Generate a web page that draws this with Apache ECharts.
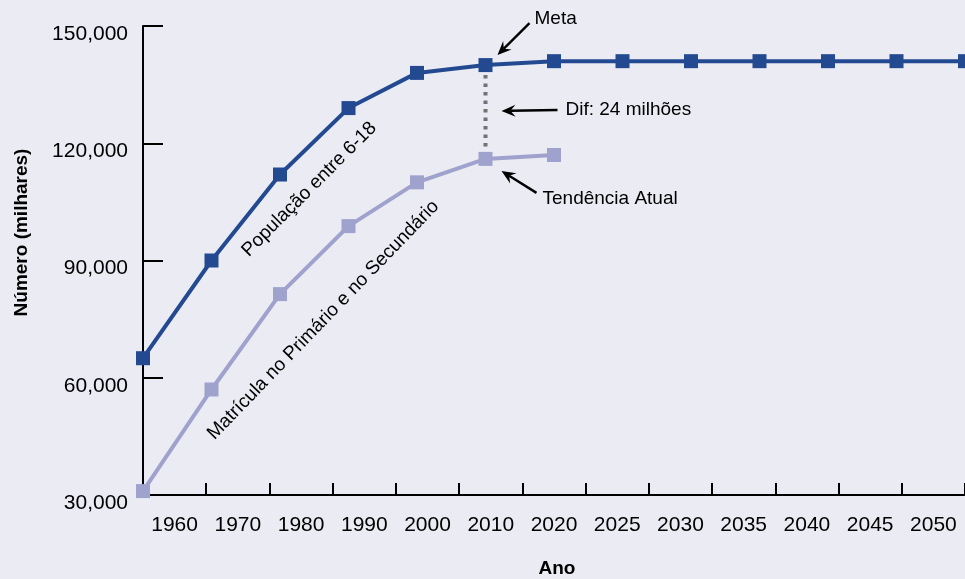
<!DOCTYPE html>
<html>
<head>
<meta charset="utf-8">
<script src="https://cdn.jsdelivr.net/npm/echarts@6/dist/echarts.min.js"></script>
<style>
  html, body { margin: 0; padding: 0; background: #EBEBF3; }
  #chart { width: 965px; height: 579px; }
</style>
</head>
<body>
<div id="chart"></div>
<script>
// Year labels shown under the horizontal axis
const yearLabels = ['1960', '1970', '1980', '1990', '2000', '2010', '2020',
                    '2025', '2030', '2035', '2040', '2045', '2050'];
// Population aged 6-18 (thousands), one value per step
const populacao = [65000, 90000, 112000, 129000, 138000, 140000, 141000,
                   141000, 141000, 141000, 141000, 141000, 141000];
// Primary + secondary enrollment (thousands)
const matricula = [31000, 57000, 81400, 98800, 110000, 116000, 117000];
// Vertical scale
const yMin = 30000, yMax = 150000, yStep = 30000;
// Step where the goal is compared with the current trend
const metaIndex = 5;

const FONT = "'Liberation Sans', Arial, Helvetica, sans-serif";
const DARK = '#234A91';
const LIGHT = '#9FA2CD';

const chart = echarts.init(document.getElementById('chart'), null, { renderer: 'canvas' });

const option = {
  backgroundColor: '#EBEBF3',
  animation: false,
  textStyle: { fontFamily: FONT },
  grid: { left: 143, right: 0, top: 26, bottom: 84, containLabel: false, outerBoundsMode: 'none' },
  xAxis: [
    {
      type: 'category',
      data: yearLabels,
      boundaryGap: true,
      name: 'Ano',
      nameLocation: 'middle',
      nameGap: 64,
      nameTextStyle: { fontFamily: FONT, fontSize: 19, fontWeight: 'bold', color: '#000', padding: [0, 0, 0, 6] },
      axisLine: { show: true, lineStyle: { color: '#000', width: 2 } },
      axisTick: { show: true, inside: true, length: 12, lineStyle: { color: '#000', width: 2 } },
      axisLabel: { margin: 20, fontSize: 21, color: '#000', fontFamily: FONT, interval: 0 },
      splitLine: { show: false }
    },
    {
      type: 'category',
      data: yearLabels,
      boundaryGap: false,
      show: false
    }
  ],
  yAxis: {
    type: 'value',
    min: yMin,
    max: yMax,
    interval: yStep,
    name: 'Número (milhares)',
    nameLocation: 'middle',
    nameRotate: 90,
    nameGap: 112,
    nameTextStyle: { fontFamily: FONT, fontSize: 19, fontWeight: 'bold', color: '#000', padding: [0, 0, 0, 56] },
    axisLine: { show: true, lineStyle: { color: '#000', width: 2 } },
    axisTick: { show: true, inside: true, length: 20, lineStyle: { color: '#000', width: 2 } },
    axisLabel: {
      margin: 15, fontSize: 21, color: '#000', fontFamily: FONT,
      verticalAlign: 'top', lineHeight: 16,
      formatter: v => v.toLocaleString('en-US')
    },
    splitLine: { show: false }
  },
  series: [
    {
      name: 'População entre 6-18',
      type: 'line',
      xAxisIndex: 1,
      data: populacao,
      symbol: 'rect',
      symbolSize: 14,
      lineStyle: { color: DARK, width: 4 },
      itemStyle: { color: DARK },
      z: 3
    },
    {
      name: 'Matrícula no Primário e no Secundário',
      type: 'line',
      xAxisIndex: 1,
      data: matricula,
      symbol: 'rect',
      symbolSize: 14,
      lineStyle: { color: LIGHT, width: 4 },
      itemStyle: { color: LIGHT },
      z: 2
    }
  ]
};

chart.setOption(option);

// Annotation layer anchored on the plotted points
function px(seriesIndex, i, v) {
  return chart.convertToPixel({ seriesIndex: seriesIndex }, [i, v]);
}

function arrow(tail, tip) {
  const dx = tip[0] - tail[0], dy = tip[1] - tail[1];
  const L = Math.hypot(dx, dy);
  const ux = dx / L, uy = dy / L, nx = -uy, ny = ux;
  const head = 14, half = 6, notch = 9;
  const bx = tip[0] - ux * head, by = tip[1] - uy * head;
  const mx = tip[0] - ux * notch, my = tip[1] - uy * notch;
  return [
    { type: 'line', silent: true, z: 50,
      shape: { x1: tail[0], y1: tail[1], x2: mx, y2: my },
      style: { stroke: '#000', lineWidth: 2.4 } },
    { type: 'polygon', silent: true, z: 50,
      shape: { points: [tip, [bx + nx * half, by + ny * half], [mx, my], [bx - nx * half, by - ny * half]] },
      style: { fill: '#000' } }
  ];
}

function label(text, x, y, opts) {
  return Object.assign({
    type: 'text', silent: true, z: 50, x: x, y: y,
    style: { text: text, fontFamily: FONT, fontSize: 19, fill: '#000', align: 'left', verticalAlign: 'middle' }
  }, opts || {});
}

const P = px(0, metaIndex, populacao[metaIndex]);
const Q = px(1, metaIndex, matricula[metaIndex]);
const midY = (P[1] + Q[1]) / 2;
const gapMilhoes = Math.round((populacao[metaIndex] - matricula[metaIndex]) / 1000);

const a2 = px(0, 2, populacao[2]), a3 = px(0, 3, populacao[3]);
const b2 = px(1, 2, matricula[2]), b3 = px(1, 3, matricula[3]);

const graphics = [].concat(
  // gap between goal and trend
  [{ type: 'line', silent: true, z: 1,
     shape: { x1: P[0], y1: P[1] + 10, x2: Q[0], y2: Q[1] - 10 },
     style: { stroke: '#727272', lineWidth: 4, lineDash: [3.5, 5], lineCap: 'butt' } }],
  arrow([P[0] + 44, P[1] - 42], [P[0] + 12, P[1] - 10]),
  [label('Meta', P[0] + 49, P[1] - 46)],
  arrow([P[0] + 72, midY - 2], [P[0] + 16, midY - 1]),
  [label('Dif: ' + gapMilhoes + ' milhões', P[0] + 80, midY - 2)],
  arrow([Q[0] + 51, Q[1] + 34], [Q[0] + 16, Q[1] + 12]),
  [label('Tendência Atual', Q[0] + 57, Q[1] + 40)],
  // series names written along the curves
  [label('População entre 6-18', (a2[0] + a3[0]) / 2 - 5, (a2[1] + a3[1]) / 2 + 48,
         { rotation: 45 * Math.PI / 180 })],
  [label('Matrícula no Primário e no Secundário', (b2[0] + b3[0]) / 2 + 9, (b2[1] + b3[1]) / 2 + 60,
         { rotation: 46 * Math.PI / 180 })]
);
// center-align the rotated series names
graphics[graphics.length - 1].style.align = 'center';
graphics[graphics.length - 2].style.align = 'center';

chart.setOption({ graphic: { elements: graphics } });
</script>
</body>
</html>
